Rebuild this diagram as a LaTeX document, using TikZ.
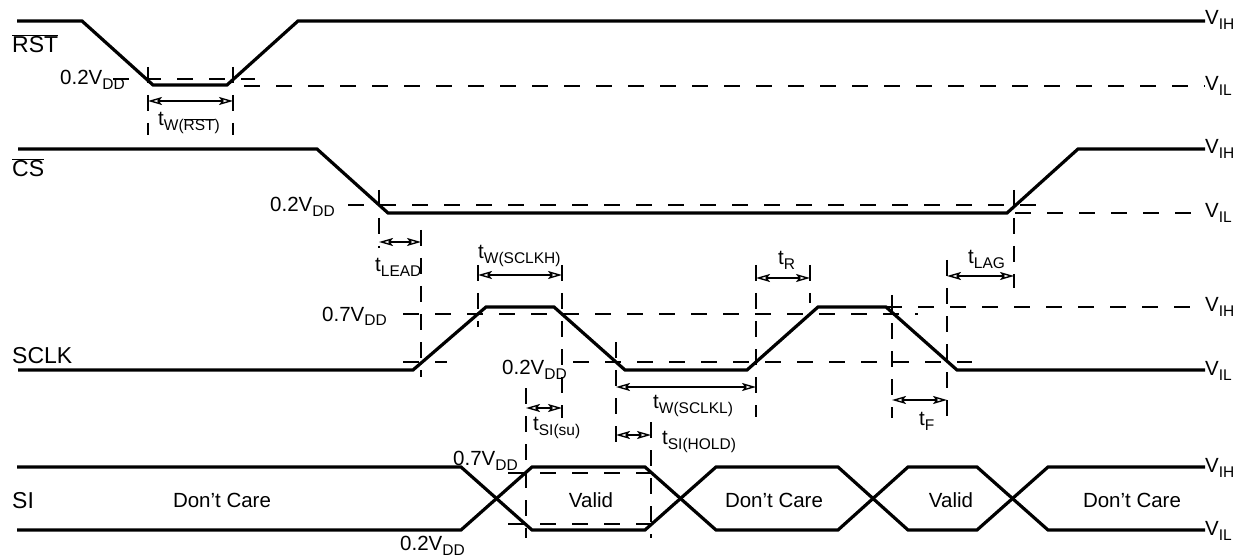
\documentclass[tikz,border=0pt]{standalone}
\usepackage{fontspec}
\setmainfont{Liberation Sans}
\usetikzlibrary{arrows.meta}
\newcommand\dn[1]{\raisebox{-5pt}{\fontsize{15.5}{16}\selectfont #1}}
\newcommand\ovl[1]{$\overline{\mbox{#1}}$}
\newcommand\apo{\char"0027\relax}
\begin{document}
\begin{tikzpicture}[x=1pt,y=-1pt,
  sig/.style={line width=3.2pt},
  dsh/.style={line width=2.6pt, dash pattern=on 16pt off 16pt},
  vdsh/.style={line width=2.6pt, dash pattern=on 16pt off 12pt},
  tarr/.style={line width=1.4pt, {Stealth[open,length=14pt,width=8pt,inset=3pt]}-{Stealth[open,length=14pt,width=8pt,inset=3pt]}},
  lbl/.style={inner sep=0pt, font=\fontsize{20.5}{22}\selectfont},
  sname/.style={inner sep=0pt, anchor=base west, font=\fontsize{23}{25}\selectfont},
  vlbl/.style={inner sep=0pt, anchor=base west, font=\fontsize{20.5}{22}\selectfont}]
\useasboundingbox (0,0) rectangle (1235,556);

% ---------- RST ----------
\draw[dsh] (113,79) -- (255,79);
\draw[dsh] (244,86) -- (1205,86);
\draw[vdsh] (148,67) -- (148,135);
\draw[vdsh] (233,67) -- (233,135);
\draw[sig] (17,21) -- (82,21) -- (153,85) -- (227,85) -- (298,21) -- (1205,21);
\coordinate (rA) at (148,101); \coordinate (rB) at (233,101);
\draw[tarr] (rA) -- (rB);
\node[sname] (nRST) at (12,53) {\ovl{RST}};
\node[vlbl] (rvih) at (1205,25) {V\dn{IH}};
\node[vlbl] (rvil) at (1205,91) {V\dn{IL}};
\node[lbl,anchor=base west] (r02) at (60,85) {0.2V\dn{DD}};
\node[lbl,anchor=base west] (ltwr) at (158,126) {t\dn{W(\ovl{RST})}};

% ---------- CS ----------
\draw[dsh] (348,205) -- (1037,205);
\draw[dsh] (1015,213) -- (1205,213);
\draw[vdsh] (379,190) -- (379,248);
\draw[vdsh] (421,230) -- (421,377);
\draw[vdsh] (1014,190) -- (1014,288);
\draw[sig] (18,149) -- (317,149) -- (388,213) -- (1007,213) -- (1078,149) -- (1205,149);
\coordinate (cA) at (379,242); \coordinate (cB) at (421,242);
\draw[tarr] (cA) -- (cB);
\coordinate (gA) at (947,276); \coordinate (gB) at (1014,276);
\draw[tarr] (gA) -- (gB);
\node[sname] (nCS) at (12,177) {\ovl{CS}};
\node[vlbl] (cvih) at (1205,154) {V\dn{IH}};
\node[vlbl] (cvil) at (1205,218) {V\dn{IL}};
\node[lbl,anchor=base west] (c02) at (270,212) {0.2V\dn{DD}};
\node[lbl,anchor=base west] (ltlead) at (375,272) {t\dn{LEAD}};
\node[lbl,anchor=base west] (ltlag) at (968,264) {t\dn{LAG}};

% ---------- SCLK ----------
\draw[dsh] (886,307) -- (1205,307);
\draw[dsh] (403,314) -- (918,314);
\draw[dsh] (403,362) -- (447,362);
\draw[dsh] (573,362) -- (972,362);
\draw[vdsh] (478,265) -- (478,327);
\draw[vdsh] (562,265) -- (562,418);
\draw[vdsh] (616,342) -- (616,448);
\draw[vdsh] (756,265) -- (756,417);
\draw[vdsh] (810,265) -- (810,303);
\draw[vdsh] (892,295) -- (892,418);
\draw[vdsh] (947,260) -- (947,418);
\draw[sig] (18,370) -- (413,370) -- (486,307) -- (554,307) -- (625,370) -- (747,370) -- (818,307) -- (886,307) -- (957,370) -- (1205,370);
\coordinate (hA) at (478,275); \coordinate (hB) at (562,275);
\draw[tarr] (hA) -- (hB);
\coordinate (tRA) at (756,278); \coordinate (tRB) at (810,278);
\draw[tarr] (tRA) -- (tRB);
\coordinate (lA) at (616,387); \coordinate (lB) at (756,387);
\draw[tarr] (lA) -- (lB);
\coordinate (suA) at (526,408); \coordinate (suB) at (562,408);
\draw[tarr] (suA) -- (suB);
\coordinate (hoA) at (616,435); \coordinate (hoB) at (651,435);
\draw[tarr] (hoA) -- (hoB);
\coordinate (fA) at (892,400); \coordinate (fB) at (947,400);
\draw[tarr] (fA) -- (fB);
\node[sname] (nSCLK) at (12,363) {SCLK};
\node[vlbl] (svih) at (1205,312) {V\dn{IH}};
\node[vlbl] (svil) at (1205,375) {V\dn{IL}};
\node[lbl,anchor=base west] (s07) at (322,321) {0.7V\dn{DD}};
\node[lbl,anchor=base west] (s02) at (502,374) {0.2V\dn{DD}};
\node[lbl,anchor=base west] (ltwh) at (478,259) {t\dn{W(SCLKH)}};
\node[lbl,anchor=base west] (ltr) at (778,265) {t\dn{R}};
\node[lbl,anchor=base west] (ltwl) at (653,408) {t\dn{W(SCLKL)}};
\node[lbl,anchor=base west] (ltsu) at (533,430) {t\dn{SI(su)}};
\node[lbl,anchor=base west] (lthold) at (662,444) {t\dn{SI(HOLD)}};
\node[lbl,anchor=base west] (ltf) at (919,425) {t\dn{F}};

% ---------- SI ----------
\draw[dsh] (508,473) -- (668,473);
\draw[dsh] (508,524) -- (668,524);
\draw[vdsh] (526,388) -- (526,538);
\draw[vdsh] (651,422) -- (651,538);
\draw[sig] (17,467) -- (461,467) -- (532,530) -- (645,530) -- (716,467) -- (838,467) -- (908,530) -- (977,530) -- (1048,467) -- (1205,467);
\draw[sig] (17,530) -- (461,530) -- (532,467) -- (645,467) -- (716,530) -- (838,530) -- (908,467) -- (977,467) -- (1048,530) -- (1205,530);
\node[sname] (nSI) at (12,508) {SI};
\node[vlbl] (ivih) at (1205,472) {V\dn{IH}};
\node[vlbl] (ivil) at (1205,535) {V\dn{IL}};
\node[lbl,anchor=base west] (i07) at (453,465) {0.7V\dn{DD}};
\node[lbl,anchor=base west] (i02) at (400,550) {0.2V\dn{DD}};
\node[lbl,anchor=base] (dc1) at (222,507) {Don\apo t Care};
\node[lbl,anchor=base] (v1) at (591,507) {Valid};
\node[lbl,anchor=base] (dc2) at (774,507) {Don\apo t Care};
\node[lbl,anchor=base] (v2) at (951,507) {Valid};
\node[lbl,anchor=base] (dc3) at (1132,507) {Don\apo t Care};
\end{tikzpicture}
\end{document}
